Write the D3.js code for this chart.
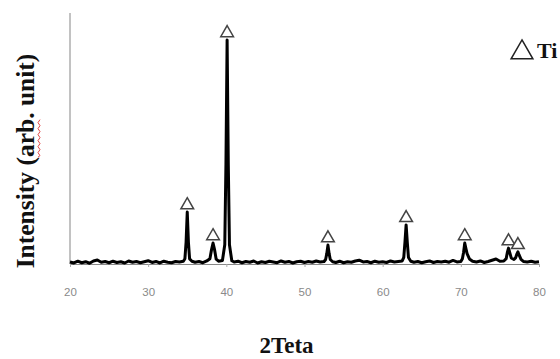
<!DOCTYPE html>
<html><head><meta charset="utf-8">
<script src="https://cdn.jsdelivr.net/npm/d3@7"></script>
<style>body{margin:0;background:#fff}svg{display:block}</style>
</head><body>
<script>
// 2θ (deg) and intensity (arb.)
const twoTheta = [20,20.5,21,21.5,22,22.5,23,23.5,24,24.5,25,25.5,26,26.5,27,27.5,28,28.5,29,29.5,30,30.5,31,31.5,32,32.5,33,33.5,34,34.5,34.7,34.85,35.0,35.15,35.3,35.6,36,36.5,37,37.5,37.9,38.1,38.3,38.5,38.7,39,39.5,39.8,39.95,40.1,40.25,40.4,40.7,41,41.5,42,42.5,43,43.5,44,44.5,45,45.5,46,46.5,47,47.5,48,48.5,49,49.5,50,50.5,51,51.5,52,52.5,52.7,52.85,53.0,53.15,53.3,53.6,54,54.5,55,55.5,56,56.5,57,57.5,58,58.5,59,59.5,60,60.5,61,61.5,62,62.5,62.7,62.85,63.0,63.15,63.3,63.6,64,64.5,65,65.5,66,66.5,67,67.5,68,68.5,69,69.5,70.0,70.2,70.35,70.5,70.65,70.8,71.1,71.5,72,72.5,73,73.5,74,74.5,75,75.5,75.8,75.95,76.1,76.25,76.45,76.8,77.0,77.15,77.3,77.45,77.7,78,78.5,79,79.5,80];
const intensity = [1.2,0.8,1.5,0.9,1.3,0.7,1.6,2.0,1.1,1.4,0.9,1.5,1.0,1.3,0.8,1.6,1.1,1.4,0.9,1.3,1.7,1.0,1.4,0.8,1.5,1.1,0.9,1.4,1.2,1.5,2.5,9,21,9,2.4,1.5,1.1,1.4,0.9,1.6,2.5,6,8.7,6,2.3,1.5,1.8,8,40,89.3,40,8,1.7,1.2,1.5,0.9,1.4,1.1,1.6,0.8,1.3,1.0,1.5,1.2,0.9,1.6,1.1,1.4,0.8,1.3,1.5,1.0,1.4,1.1,1.6,1.2,1.4,2.2,4.5,7.9,4.5,2.2,1.3,1.0,1.5,0.9,1.3,1.1,1.6,1.9,1.2,1.4,0.9,1.5,1.1,1.3,1.0,1.6,1.2,1.4,1.6,3,9,15.9,9,3,1.5,1.1,1.4,0.9,1.3,1.6,1.0,1.4,1.2,1.5,1.1,1.8,1.2,1.4,2.5,5,8.7,6.5,4.5,2.4,1.5,1.2,1.6,1.0,1.4,1.9,2.4,1.5,1.6,2.5,5,6.7,5,2.8,2.2,2.8,4.2,5.2,4,2.2,1.4,1.2,1.5,1.1,1.3];
const peakPos = [35.0,38.3,40.1,53.0,63.0,70.5,76.1,77.3];
const peakInt = [21,8.7,89.3,7.9,15.9,8.7,6.7,5.2];
const xTicks = [20,30,40,50,60,70,80];
const xTitle = "2Teta";
const yTitle = "Intensity (arb. unit)";
const legendLabel = "Ti";

const W = 560, H = 359;
const serif = "Liberation Serif, Times New Roman, serif";
const svg = d3.select("body").append("svg").attr("width", W).attr("height", H);
const x = d3.scaleLinear().domain([20, 80]).range([70, 539]);
const y = d3.scaleLinear().domain([0, 100]).range([265, 13]);

// y axis line
svg.append("line").attr("x1", 70).attr("x2", 70).attr("y1", 13).attr("y2", 264)
  .attr("stroke", "#999").attr("stroke-width", 1.2);

// x axis
const xa = svg.append("g").attr("transform", "translate(0,264)")
  .call(d3.axisBottom(x).tickValues(xTicks).tickSize(3).tickPadding(21).tickFormat(d3.format("d")));
xa.select(".domain").attr("stroke", "#888");
xa.selectAll(".tick line").attr("stroke", "#aaa");
xa.selectAll("text").attr("fill", "#8a8a8a").attr("font-family", "Liberation Sans, Arial, sans-serif")
  .style("font-size", "11.5px");

// pattern line
const pts = twoTheta.map((t, i) => [t, intensity[i]]);
svg.append("path").datum(pts)
  .attr("d", d3.line().x(d => x(d[0])).y(d => y(d[1])))
  .attr("fill", "none").attr("stroke", "#000").attr("stroke-width", 3)
  .attr("stroke-linejoin", "round");

// peak markers
const tri = d3.symbol().type(d3.symbolTriangle).size(70);
svg.selectAll(".pk").data(peakPos).join("path")
  .attr("transform", (d, i) => `translate(${x(d)},${y(peakInt[i]) - 7})`)
  .attr("d", tri).attr("fill", "#fff").attr("stroke", "#444").attr("stroke-width", 1.5);

// legend
svg.append("path").attr("transform", "translate(522,52.5)")
  .attr("d", d3.symbol().type(d3.symbolTriangle).size(205))
  .attr("fill", "none").attr("stroke", "#222").attr("stroke-width", 1.5);
svg.append("text").attr("x", 537).attr("y", 58).text(legendLabel)
  .attr("font-family", serif).attr("font-weight", "bold").attr("font-size", 22).attr("fill", "#111");

// titles
svg.append("text").attr("x", 286.5).attr("y", 353).attr("text-anchor", "middle").text(xTitle)
  .attr("font-family", serif).attr("font-weight", "bold").attr("font-size", 23).attr("fill", "#111");
const yt = svg.append("text").attr("transform", "translate(34,161) rotate(-90)").attr("text-anchor", "middle").text(yTitle)
  .attr("font-family", serif).attr("font-weight", "bold").attr("font-size", 25.5).attr("fill", "#111");

// red wavy spell-check underline under "arb."
const node = yt.node();
const total = node.getComputedTextLength();
const start = node.getSubStringLength(0, 11) - total / 2;
const len = node.getSubStringLength(11, 3);
const wave = d3.path();
wave.moveTo(start, 4);
for (let s = 0; s < len; s += 3) {
  wave.lineTo(start + s + 1.5, (Math.round(s / 3) % 2) ? 4 : 6);
}
svg.append("path").attr("transform", "translate(34,161) rotate(-90)")
  .attr("d", wave.toString()).attr("fill", "none").attr("stroke", "#d33").attr("stroke-width", 0.9);
</script>
</body></html>
